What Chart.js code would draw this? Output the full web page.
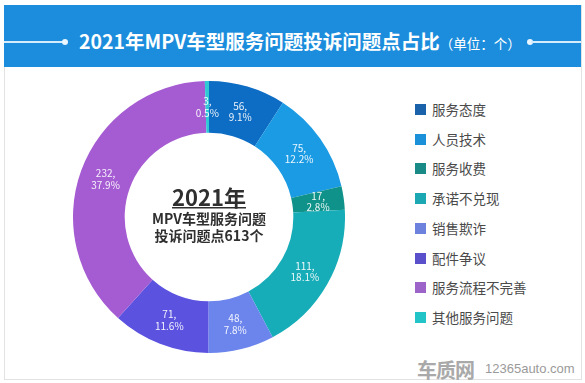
<!DOCTYPE html>
<html><head><meta charset="utf-8">
<script src="https://cdn.jsdelivr.net/npm/chart.js@4"></script>
<style>
html,body{margin:0;padding:0;background:#fff;width:585px;height:383px;overflow:hidden;font-family:"Noto Sans CJK SC","Noto Sans",sans-serif;}
#card{position:absolute;left:4px;top:5px;width:576px;height:374px;border:1px solid #e2e2e2;border-top:none;}
#header{position:absolute;left:4px;top:5px;width:577px;height:62px;background:#1b8ddc;}
.hline{position:absolute;top:36px;height:1.5px;background:#d4ecfb;}
.dot{position:absolute;top:34px;width:6px;height:6px;border-radius:3px;background:#eaf6ff;}
#title{position:absolute;left:75px;top:22px;white-space:nowrap;color:#fff;font-weight:bold;font-size:19.5px;line-height:28px;}
#title span{font-weight:normal;font-size:13.5px;}
#chartBox{position:absolute;left:73px;top:81px;width:272px;height:272px;}
#legend{position:absolute;left:415px;top:100px;}
.item{position:absolute;left:0;height:18px;white-space:nowrap;font-size:13.5px;color:#4a4a4a;line-height:18px;}
.item i{position:absolute;left:0;top:4px;width:11px;height:11px;}
.item b{position:absolute;left:17px;top:0;font-weight:normal;}
#wm1{position:absolute;left:417px;top:355px;font-size:20px;font-weight:bold;color:#a9a9a9;letter-spacing:-1px;}
#wm2{position:absolute;left:485px;top:361px;font-size:13px;color:#9a9a9a;font-family:"Liberation Sans",Arial,sans-serif;}
</style></head>
<body>
<div id="card"></div>
<div id="header">
  <div class="hline" style="left:0;width:61px;"></div>
  <div class="dot" style="left:58px;"></div>
  <div id="title">2021年MPV车型服务问题投诉问题点占比<span>（单位：个）</span></div>
  <div class="dot" style="left:523px;"></div>
  <div class="hline" style="left:527px;width:50px;"></div>
</div>
<div id="chartBox"><canvas id="c"></canvas></div>
<div id="legend"></div>
<div id="wm1">车质网</div>
<div id="wm2">12365auto.com</div>
<script>
const categories = ["服务态度","人员技术","服务收费","承诺不兑现","销售欺诈","配件争议","服务流程不完善","其他服务问题"];
const values = [56, 75, 17, 111, 48, 71, 232, 3];
const pctLabels = ["9.1%","12.2%","2.8%","18.1%","7.8%","11.6%","37.9%","0.5%"];
const sliceColors = ["#0d6cc3","#1a9be4","#0f9289","#16adb8","#6b85ec","#5b53df","#a55bd2","#2fc9d6"];
const legendColors = ["#1a62aa","#1a91d8","#1a8a86","#1ba8b2","#6d82dc","#5b50cc","#9c63c8","#22c4c8"];
const centerLines = ["2021年","MPV车型服务问题","投诉问题点613个"];

const leg = document.getElementById('legend');
categories.forEach((c,i)=>{
  const d=document.createElement('div'); d.className='item';
  d.style.top=(i*29.7)+'px';
  d.innerHTML='<i style="background:'+legendColors[i]+'"></i><b>'+c+'</b>';
  leg.appendChild(d);
});

const labelPlugin = {
  id:'sliceLabels',
  afterDatasetsDraw(chart){
    const ctx=chart.ctx, meta=chart.getDatasetMeta(0);
    ctx.save();
    ctx.fillStyle='rgba(255,255,255,0.92)';
    ctx.font='10px "Noto Sans CJK SC"';
    ctx.textAlign='center'; ctx.textBaseline='middle';
    meta.data.forEach((arc,i)=>{
      const p=arc.getCenterPoint();
      ctx.fillText(values[i]+',', p.x, p.y-5.5);
      ctx.fillText(pctLabels[i], p.x, p.y+6);
    });
    const a=chart.chartArea, cx=(a.left+a.right)/2, cy=(a.top+a.bottom)/2;
    ctx.fillStyle='#2f2f2f';
    ctx.font='bold 22px "Noto Sans CJK SC"';
    ctx.fillText(centerLines[0], cx, cy-19);
    const w=ctx.measureText(centerLines[0]).width;
    ctx.fillRect(cx-w/2, cy-10, w, 1.5);
    ctx.font='bold 14px "Noto Sans CJK SC"';
    ctx.fillText(centerLines[1], cx, cy+2);
    ctx.fillText(centerLines[2], cx, cy+18.5);
    ctx.restore();
  }
};

new Chart(document.getElementById('c'),{
  type:'doughnut',
  data:{labels:categories,datasets:[{data:values,backgroundColor:sliceColors,borderWidth:0}]},
  options:{
    responsive:true,maintainAspectRatio:false,animation:false,
    cutout:'62%',rotation:0,
    layout:{padding:0},
    plugins:{legend:{display:false},tooltip:{enabled:false}}
  },
  plugins:[labelPlugin]
});
</script>
</body></html>
